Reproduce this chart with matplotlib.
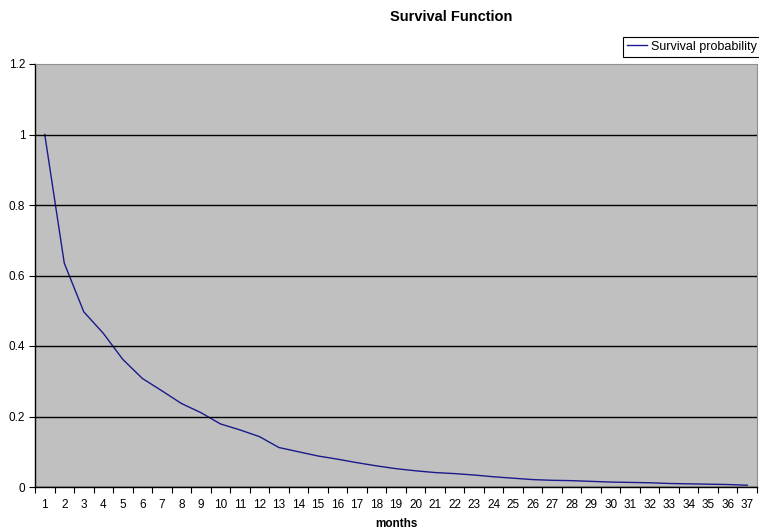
import numpy as np
import matplotlib
matplotlib.use("Agg")
import matplotlib.pyplot as plt

plt.rcParams['font.family'] = ['Liberation Sans', 'DejaVu Sans']

# Data
months = list(range(1, 38))
survival = [1.0, 0.635, 0.497, 0.436, 0.362, 0.308, 0.273, 0.237, 0.211, 0.179,
            0.162, 0.143, 0.112, 0.100, 0.088, 0.079, 0.069, 0.060, 0.052, 0.046,
            0.041, 0.038, 0.034, 0.029, 0.025, 0.021, 0.019, 0.018, 0.016, 0.014,
            0.013, 0.012, 0.010, 0.009, 0.008, 0.007, 0.005]
y_ticks = [0, 0.2, 0.4, 0.6, 0.8, 1, 1.2]
y_labels = ["0", "0.2", "0.4", "0.6", "0.8", "1", "1.2"]

fig = plt.figure(figsize=(7.59, 5.31), dpi=100)
ax = fig.add_axes([35 / 759, 44 / 531, 722 / 759, 423 / 531])
ax.set_facecolor('#c0c0c0')

ax.plot(months, survival, color='#1a1a8c', linewidth=1.0, label='Survival probability')

ax.set_xlim(0.5, 37.5)
ax.set_ylim(0, 1.2)
ax.set_yticks(y_ticks)
ax.set_yticklabels(y_labels)
ax.set_xticks(months)
ax.set_xticklabels([str(m) for m in months])
ax.set_xticks(np.arange(0.5, 38, 1), minor=True)
ax.tick_params(axis='x', which='major', length=0, pad=9, labelsize=8.5)
ax.tick_params(axis='x', which='minor', length=4, width=0.8, direction='out')
ax.tick_params(axis='y', length=4, width=0.8, direction='out', pad=3, labelsize=8.5)
ax.grid(True, axis='y', color='black', linewidth=1.0)
# no gridline on the top edge
ax.get_ygridlines()[-1].set_visible(False)
ax.set_axisbelow(False)

for s in ['top', 'right']:
    ax.spines[s].set_color('#909090')
    ax.spines[s].set_linewidth(0.8)
for s in ['left', 'bottom']:
    ax.spines[s].set_color('black')
    ax.spines[s].set_linewidth(1.0)

ax.set_xlabel('months', fontsize=8.5, fontweight='bold')
ax.xaxis.set_label_coords(0.5, -31 / 423)
fig.text(451 / 759, 1 - 17 / 531, 'Survival Function', fontsize=10.5,
         fontweight='bold', ha='center', va='center')

leg = fig.legend(loc='upper left', bbox_to_anchor=(623 / 759, 1 - 37 / 531),
                 fontsize=9, frameon=True, fancybox=False, framealpha=1,
                 edgecolor='black', borderpad=0.3, handlelength=1.6,
                 handletextpad=0.35, borderaxespad=0)
leg.get_frame().set_linewidth(0.8)

fig.savefig('out.png', dpi=100)
